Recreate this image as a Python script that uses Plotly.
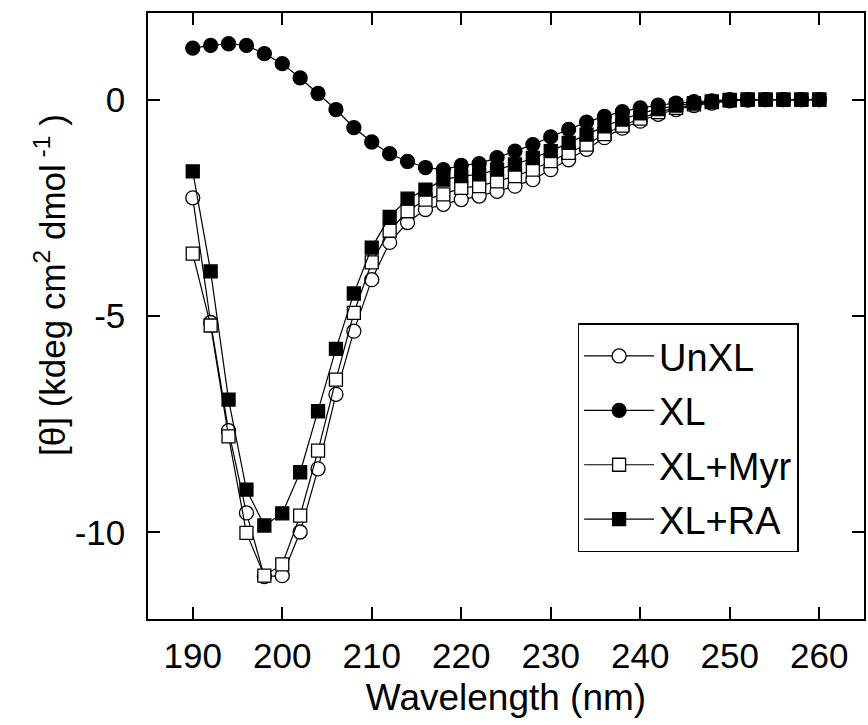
import plotly.graph_objects as go

wavelength = list(range(190, 262, 2))

unxl = [-2.27, -5.15, -7.65, -9.55, -11.02, -11.00, -9.99, -8.53, -6.81, -5.35,
        -4.16, -3.30, -2.84, -2.54, -2.42, -2.31, -2.23, -2.12, -2.00, -1.85,
        -1.62, -1.39, -1.15, -0.88, -0.66, -0.50, -0.34, -0.23, -0.14, -0.08,
        -0.03, -0.01, 0.0, 0.0, 0.0, 0.0]
xl = [1.19, 1.25, 1.29, 1.25, 1.06, 0.83, 0.50, 0.14, -0.23, -0.65,
      -0.98, -1.25, -1.43, -1.57, -1.62, -1.52, -1.48, -1.34, -1.19, -1.04,
      -0.86, -0.69, -0.52, -0.39, -0.28, -0.19, -0.13, -0.08, -0.05, -0.03,
      0.0, 0.0, 0.0, 0.0, 0.0, 0.0]
xl_myr = [-3.56, -5.22, -7.78, -10.01, -11.00, -10.74, -9.61, -8.11, -6.47, -4.93,
          -3.76, -3.03, -2.58, -2.31, -2.19, -2.04, -2.00, -1.89, -1.77, -1.62,
          -1.42, -1.23, -1.04, -0.80, -0.60, -0.44, -0.29, -0.19, -0.11, -0.06,
          -0.02, 0.0, 0.0, 0.0, 0.0, 0.0]
xl_ra = [-1.66, -3.97, -6.93, -9.01, -9.84, -9.56, -8.61, -7.20, -5.76, -4.48,
         -3.42, -2.71, -2.29, -2.08, -1.85, -1.77, -1.73, -1.62, -1.50, -1.35,
         -1.19, -1.00, -0.81, -0.62, -0.46, -0.32, -0.22, -0.14, -0.08, -0.04,
         -0.01, 0.0, 0.0, 0.0, 0.0, 0.0]

series_names = ["UnXL", "XL", "XL+Myr", "XL+RA"]
series_values = [unxl, xl, xl_myr, xl_ra]
symbols = ["circle", "circle", "square", "square"]
fills = ["white", "black", "white", "black"]

x_ticks = [190, 200, 210, 220, 230, 240, 250, 260]
y_ticks = [-10, -5, 0]

FONT = "Liberation Sans, Arial, sans-serif"

fig = go.Figure()
for i, (name, vals, sym, fc) in enumerate(zip(series_names, series_values, symbols, fills)):
    fig.add_trace(go.Scatter(
        x=wavelength, y=vals, name=name, mode="lines+markers",
        legendgroup=name,
        line=dict(color="black", width=1.2),
        marker=dict(symbol=sym, size=14 if sym == "circle" else 13, color=fc,
                    line=dict(color="black", width=1.3)),
    ))

fig.update_layout(
    width=868, height=725,
    margin=dict(l=148, r=2, t=13, b=106),
    paper_bgcolor="white", plot_bgcolor="white",
    font=dict(family=FONT, size=35, color="black"),
    showlegend=True,
    legend=dict(
        x=0.600, y=0.488, xanchor="left", yanchor="top",
        bgcolor="white", bordercolor="black", borderwidth=1.5,
        font=dict(family=FONT, size=38, color="black"),
        itemwidth=70, tracegroupgap=2,
    ),
)
fig.update_xaxes(
    range=[185, 265], tickvals=x_ticks, ticktext=[str(v) for v in x_ticks],
    ticks="inside", ticklen=12, tickwidth=1.5, tickcolor="black",
    showline=True, linecolor="black", linewidth=1.5, mirror="ticks",
    showgrid=False, zeroline=False,
    tickfont=dict(family=FONT, size=35),
    ticklabelstandoff=5,
    title=dict(text="Wavelength (nm)", font=dict(family=FONT, size=37), standoff=10),
)
fig.update_yaxes(
    range=[-12, 2], tickvals=y_ticks, ticktext=[str(v) for v in y_ticks],
    ticks="inside", ticklen=12, tickwidth=1.5, tickcolor="black",
    showline=True, linecolor="black", linewidth=1.5, mirror="ticks",
    showgrid=False, zeroline=False,
    tickfont=dict(family=FONT, size=35),
    ticklabelstandoff=14,
)
fig.add_annotation(
    text="[\u03b8] (kdeg cm<sup>2</sup> dmol<sup> -1</sup> )",
    xref="paper", yref="paper", x=-0.137, y=0.551,
    xanchor="center", yanchor="middle", textangle=-90, showarrow=False,
    font=dict(family=FONT, size=35, color="black"),
)

fig.write_html("out.html")
